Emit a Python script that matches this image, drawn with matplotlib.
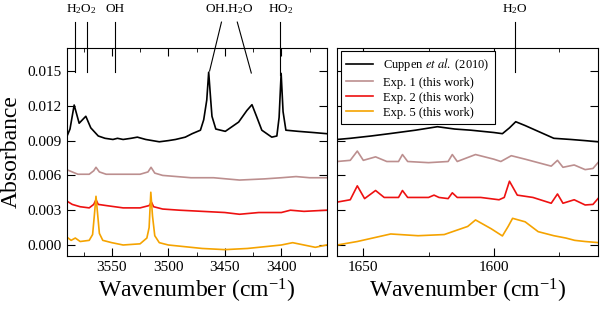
import numpy as np
import matplotlib
matplotlib.use("Agg")
import matplotlib.pyplot as plt

plt.rcParams['font.family'] = ['Liberation Serif', 'DejaVu Serif']
plt.rcParams['mathtext.fontset'] = 'stix'
plt.rcParams['mathtext.default'] = 'regular'

# ---- left panel: OH stretching region (cm-1, absorbance) ----
xl_cup = [3590, 3587, 3583.3, 3578.9, 3573, 3568.6, 3562, 3556, 3549, 3545, 3540, 3533,
          3527.4, 3520, 3508, 3500, 3493.6, 3485, 3478.9, 3471.6, 3468.7, 3466, 3464.3,
          3462.5, 3461.4, 3458, 3449.6, 3443.7, 3437.8, 3430.5, 3426, 3422, 3417.3,
          3408.5, 3404, 3402, 3400.2, 3398.5, 3396, 3385, 3372, 3360]
yl_cup = [0.0093, 0.0100, 0.01207, 0.0105, 0.0111, 0.0101, 0.0094, 0.0092, 0.0091, 0.0092,
          0.0091, 0.0092, 0.0093, 0.0091, 0.0089, 0.0090, 0.0091, 0.0093, 0.0096, 0.0099,
          0.0108, 0.0125, 0.0149, 0.0125, 0.0111, 0.0100, 0.0098, 0.0102, 0.0106, 0.0116,
          0.0121, 0.0111, 0.0099, 0.0093, 0.0094, 0.0110, 0.0148, 0.0115, 0.0099, 0.0098,
          0.0097, 0.0096]

xl_exp1 = [3590, 3580, 3570, 3566, 3564, 3561, 3555, 3540, 3525, 3518, 3515.3, 3512,
           3505, 3480, 3460, 3437, 3415, 3400, 3387, 3375, 3360]
yl_exp1 = [0.0065, 0.0061, 0.0061, 0.0064, 0.0067, 0.0063, 0.0061, 0.0061, 0.0061, 0.0063,
           0.0067, 0.0062, 0.0060, 0.0058, 0.0058, 0.0056, 0.0057, 0.0058, 0.0059, 0.0058,
           0.0058]

xl_exp2 = [3590, 3585, 3578, 3570, 3566, 3564, 3562, 3555, 3540, 3525, 3517, 3515, 3513,
           3505, 3490, 3470, 3450, 3437, 3420, 3400, 3392, 3380, 3360]
yl_exp2 = [0.0038, 0.0035, 0.0033, 0.0032, 0.0035, 0.0039, 0.0035, 0.0034, 0.0032, 0.0032,
           0.0034, 0.0037, 0.0033, 0.0031, 0.0030, 0.0029, 0.0028, 0.00265, 0.0028, 0.0028,
           0.0030, 0.0029, 0.0030]

xl_exp5 = [3590, 3586, 3582.3, 3578, 3570, 3567, 3565.5, 3564, 3562.5, 3561, 3558, 3550,
           3540, 3525, 3519, 3517, 3515.5, 3514, 3512, 3508, 3500, 3490, 3470, 3450, 3430,
           3410, 3400, 3390, 3380, 3370, 3360]
yl_exp5 = [0.0007, 0.0004, 0.0006, 0.0003, 0.0004, 0.0009, 0.0025, 0.0042, 0.0026, 0.0010,
           0.0004, 0.0002, 0.0000, 0.0001, 0.0006, 0.0015, 0.00455, 0.0025, 0.0008, 0.0002,
           0.0000, -0.0001, -0.0003, -0.0004, -0.0003, -0.0001, 0.0000, 0.0002, 0.0000,
           -0.0002, 0.0000]

# ---- right panel: H2O bending region ----
xr_cup = [1660, 1655, 1647, 1640, 1630, 1621.6, 1615, 1608.8, 1600, 1596.7, 1594,
          1591.6, 1588, 1583, 1577, 1570.5, 1565, 1560]
yr_cup = [0.0091, 0.0092, 0.0094, 0.0096, 0.0099, 0.0102, 0.0100, 0.0099, 0.0097, 0.0096,
          0.0101, 0.01063, 0.0103, 0.0098, 0.0092, 0.0091, 0.0090, 0.0089]

xr_exp1 = [1660, 1655, 1652.3, 1650, 1645.3, 1641, 1636.5, 1635, 1633, 1625, 1617.5,
           1615.9, 1614, 1607, 1600, 1597.3, 1593.3, 1588, 1583, 1578, 1575.6, 1573.5,
           1569.2, 1565, 1562, 1559.7]
yr_exp1 = [0.0072, 0.0073, 0.0081, 0.0073, 0.0076, 0.0072, 0.0072, 0.0078, 0.0072, 0.0071,
           0.0072, 0.0078, 0.0072, 0.0078, 0.0074, 0.0072, 0.0077, 0.0074, 0.0071, 0.0068,
           0.0073, 0.0067, 0.0069, 0.0065, 0.0066, 0.0072]

xr_exp2 = [1660, 1655, 1652.3, 1649.5, 1645.3, 1642, 1636.5, 1635, 1633, 1625, 1622.9,
           1621, 1617.5, 1615.9, 1614, 1605, 1598, 1596, 1594, 1591, 1585, 1578, 1575.6,
           1573.5, 1569.2, 1565, 1562, 1559.7]
yr_exp2 = [0.0037, 0.0039, 0.0051, 0.0040, 0.0047, 0.0041, 0.0041, 0.0047, 0.0041, 0.0041,
           0.0043, 0.0041, 0.0040, 0.0045, 0.0041, 0.0041, 0.0039, 0.0041, 0.0055, 0.0043,
           0.0041, 0.0036, 0.0044, 0.0036, 0.0039, 0.00345, 0.0035, 0.0041]

xr_exp5 = [1660, 1652.3, 1639.5, 1629, 1619, 1610, 1607, 1601, 1596.7, 1594.5, 1592.8,
           1588, 1583, 1577, 1572.4, 1569, 1565, 1559.7]
yr_exp5 = [0.0000, 0.0003, 0.00095, 0.0008, 0.0009, 0.0016, 0.00216, 0.0014, 0.00078,
           0.0016, 0.0023, 0.0020, 0.00115, 0.0008, 0.0006, 0.0004, 0.0003, 0.0002]

labels = ["Cuppen $\\mathit{et\\ al.}$ (2010)", "Exp. 1 (this work)",
          "Exp. 2 (this work)", "Exp. 5 (this work)"]
colors = ["black", "#bc8f8f", "#ee1111", "#f5a300"]

fig = plt.figure(figsize=(6, 3.09), dpi=100)
axl = fig.add_axes([0.111, 0.1715, 0.4333, 0.674])
axr = fig.add_axes([0.562, 0.1715, 0.435, 0.674])

left_sets = [(xl_cup, yl_cup), (xl_exp1, yl_exp1), (xl_exp2, yl_exp2), (xl_exp5, yl_exp5)]
right_sets = [(xr_cup, yr_cup), (xr_exp1, yr_exp1), (xr_exp2, yr_exp2), (xr_exp5, yr_exp5)]

for (x, y), c, lab in zip(left_sets, colors, labels):
    axl.plot(x, y, color=c, lw=1.2)
for (x, y), c, lab in zip(right_sets, colors, labels):
    axr.plot(x, y, color=c, lw=1.2, label=lab)

axl.set_xlim(3590, 3360)
axr.set_xlim(1660, 1560)
for ax in (axl, axr):
    ax.set_ylim(-0.00095, 0.01701)
    ax.set_yticks([0.0, 0.003, 0.006, 0.009, 0.012, 0.015])
    ax.tick_params(which='both', direction='in', top=True, right=True, labelsize=11)
    ax.tick_params(which='major', length=6)
    ax.tick_params(which='minor', length=3)
    ax.set_xlabel("Wavenumber (cm$^{-1}$)", fontsize=17, labelpad=2)

axl.set_xticks([3550, 3500, 3450, 3400])
axl.set_xticks([3575, 3525, 3475, 3425, 3375], minor=True)
axl.set_yticklabels(["0.000", "0.003", "0.006", "0.009", "0.012", "0.015"])
axl.set_ylabel("Absorbance", fontsize=17, labelpad=4)

axr.set_xticks([1650, 1600])
axr.set_xticks([1625, 1575], minor=True)
axr.set_yticklabels([])

# assignments above the left panel
ytxt, ytop, ybot = 0.02035, 0.01922, 0.0149
marks = [([3582.6, 3582.6], [ytop, ybot]), ([3572, 3572], [ytop, ybot]),
         ([3547.3, 3547.3], [ytop, ybot]), ([3453, 3463.5], [ytop, 0.0150]),
         ([3439, 3426.6], [ytop, 0.01483]), ([3400.9, 3400.9], [ytop, 0.0147])]
for xs, ys in marks:
    axl.plot(xs, ys, color='black', lw=0.8, clip_on=False)
for xt, t in [(3577, "H$_2$O$_2$"), (3547.3, "OH"), (3446, "OH.H$_2$O"), (3400.9, "HO$_2$")]:
    axl.text(xt, ytxt, t, ha='center', va='center', fontsize=9.5)

axr.plot([1591.8, 1591.8], [ytop, ybot], color='black', lw=0.8, clip_on=False)
axr.text(1591.8, ytxt, "H$_2$O", ha='center', va='center', fontsize=9.5)

leg = axr.legend(loc='upper left', fontsize=9, fancybox=False, edgecolor='black',
                 framealpha=1, borderaxespad=0.3, handlelength=2.2, labelspacing=0.25,
                 borderpad=0.4)
leg.get_frame().set_linewidth(0.8)

fig.savefig("out.png", dpi=100)
